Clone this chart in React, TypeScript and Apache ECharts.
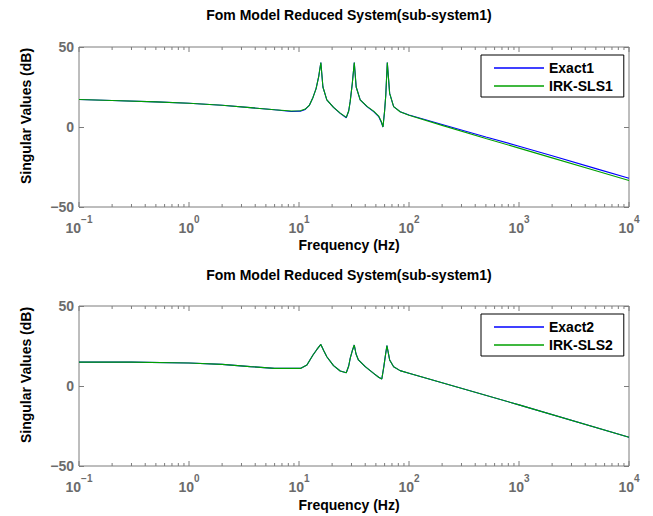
import React, { useEffect, useRef } from 'react';
import * as echarts from 'echarts';

const FONT = '"Liberation Sans", Arial, Helvetica, sans-serif';
const AXIS_GRAY = '#7c7c7c';
const LABEL_GRAY = '#6b6b6b';
const BLUE = '#0000ff';
const GREEN = '#00a000';

const titleText = 'Fom Model Reduced System(sub-system1)';
const xName = 'Frequency (Hz)';
const yName = 'Singular Values (dB)';
const legend1 = ['Exact1', 'IRK-SLS1'];
const legend2 = ['Exact2', 'IRK-SLS2'];

// Top subplot
const freq1 = [0.1, 0.2, 0.5, 1, 2, 3.6, 6, 8.5, 10.3, 11.4, 12.4, 13.4, 14.3, 15.1, 15.8, 16.5, 17.9, 20.6, 23.7, 26.9, 28.3, 29.2, 30.5, 31.8, 33.1, 36, 41.5, 47.7, 53, 56, 58, 60, 61.5, 63.5, 66.7, 72.5, 83, 100, 200, 500, 1000, 2000, 5000, 10000];
const exact1 = [17.2, 16.6, 15.7, 14.8, 13.6, 12.1, 10.8, 9.7, 9.9, 11.0, 13.5, 18.5, 24, 31.5, 40.3, 25, 17, 12.3, 8.5, 5.8, 10, 16, 27, 40.3, 25, 17, 12.7, 9.6, 6.5, 3.0, 0, 10, 20, 40.3, 21, 12.7, 9.6, 7.5, 1.6, -6.2, -12, -18, -26, -32];
const irk1 = [17.2, 16.6, 15.7, 14.8, 13.6, 12.1, 10.8, 10.0, 10.2, 11.2, 13.5, 18.5, 24, 31.5, 40.3, 25, 17, 12.3, 8.7, 6.0, 10, 16, 27, 40.3, 25, 17, 12.9, 9.9, 6.8, 3.5, 0, 10, 20, 40.3, 21, 12.7, 9.5, 7.3, 1.0, -7.2, -13.2, -19.3, -27.4, -33.4];

// Bottom subplot
const freq2 = [0.1, 0.3, 1, 2, 3.6, 6, 10.3, 11.8, 13.4, 14.6, 15.8, 16.8, 17.9, 20.6, 23.7, 26.9, 28.3, 29.2, 30.5, 31.8, 33, 34.7, 40, 47.7, 53, 56.6, 59, 61, 63, 66.7, 72.5, 83, 100, 1000, 10000];
const exact2 = [14.9, 14.9, 14.4, 13.5, 12.1, 11.0, 11.0, 13.1, 19.4, 23, 26, 22, 18.3, 12.7, 9.4, 8.3, 12.5, 17.3, 22, 25.6, 20, 16.3, 12.1, 7.9, 5.5, 4.4, 12, 19, 25.2, 16.3, 12, 9.6, 8, -11.8, -32];
const irk2 = [14.9, 14.9, 14.4, 13.5, 12.1, 11.0, 11.0, 13.1, 19.4, 23, 26, 22, 18.3, 12.7, 9.4, 8.3, 12.5, 17.3, 22, 25.6, 20, 16.3, 12.1, 7.9, 5.5, 4.4, 12, 19, 25.2, 16.3, 12, 9.6, 8, -11.8, -32];

const majorTicks = [0.1, 1, 10, 100, 1000, 10000];
const minorTicks = [0.2, 0.3, 0.4, 0.5, 0.6, 0.7, 0.8, 0.9, 2, 3, 4, 5, 6, 7, 8, 9, 20, 30, 40, 50, 60, 70, 80, 90, 200, 300, 400, 500, 600, 700, 800, 900, 2000, 3000, 4000, 5000, 6000, 7000, 8000, 9000];
const yMin = -50;
const yMax = 50;
const yStep = 50;

const GRID_TOPS = [47, 306];

function tickSeries(ticks: number[], gi: number, len: number) {
  return {
    type: 'custom',
    xAxisIndex: gi,
    yAxisIndex: gi * 2,
    silent: true,
    z: 4,
    data: ticks.map((t) => [t, 0]),
    encode: { x: 0, y: 1 },
    renderItem: (params: any, api: any) => {
      const x = api.coord([api.value(0), 0])[0];
      const cs = params.coordSys;
      const top = cs.y;
      const bottom = cs.y + cs.height;
      return {
        type: 'group',
        children: [
          { type: 'line', shape: { x1: x, y1: bottom, x2: x, y2: bottom - len }, style: { stroke: AXIS_GRAY, lineWidth: 1 } },
          { type: 'line', shape: { x1: x, y1: top, x2: x, y2: top + len }, style: { stroke: AXIS_GRAY, lineWidth: 1 } },
        ],
      };
    },
  };
}

function lineSeries(name: string, f: number[], v: number[], color: string, gi: number) {
  return {
    name,
    type: 'line',
    xAxisIndex: gi,
    yAxisIndex: gi * 2,
    data: f.map((x, i) => [x, v[i]]),
    showSymbol: false,
    symbol: 'none',
    smooth: false,
    z: 3,
    lineStyle: { color, width: 1.1 },
    itemStyle: { color },
  };
}

function xAxis(gi: number) {
  return {
    type: 'log',
    logBase: 10,
    gridIndex: gi,
    min: 0.1,
    max: 10000,
    axisLine: { show: false },
    axisTick: { show: false },
    splitLine: { show: false },
    minorTick: { show: false },
    axisLabel: {
      margin: 7,
      formatter: (v: number) => {
        const e = Math.round(Math.log10(v));
        const es = e < 0 ? '\u2212' + Math.abs(e) : String(e);
        return '{b|10}{s|' + es + '}';
      },
      rich: {
        b: { fontSize: 14, fontWeight: 'bold', fontFamily: FONT, color: LABEL_GRAY, lineHeight: 21, verticalAlign: 'bottom' },
        s: { fontSize: 10, fontWeight: 'bold', fontFamily: FONT, color: LABEL_GRAY, verticalAlign: 'top' },
      },
    },
  };
}

function yAxes(gi: number) {
  return [
    {
      type: 'value',
      gridIndex: gi,
      min: yMin,
      max: yMax,
      interval: yStep,
      position: 'left',
      axisLine: { show: false },
      axisTick: { show: true, inside: true, length: 5, lineStyle: { color: AXIS_GRAY, width: 1 } },
      splitLine: { show: false },
      axisLabel: {
        margin: 5,
        fontSize: 14,
        fontWeight: 'bold',
        fontFamily: FONT,
        color: LABEL_GRAY,
        formatter: (v: number) => (v < 0 ? '\u2212' + Math.abs(v) : String(v)),
      },
    },
    {
      type: 'value',
      gridIndex: gi,
      min: yMin,
      max: yMax,
      interval: yStep,
      position: 'right',
      axisLine: { show: false },
      axisTick: { show: true, inside: true, length: 5, lineStyle: { color: AXIS_GRAY, width: 1 } },
      splitLine: { show: false },
      axisLabel: { show: false },
    },
  ];
}

function legend(names: string[], top: number) {
  return {
    data: names,
    orient: 'vertical',
    left: 481,
    top,
    padding: [6, 11, 4, 13],
    itemGap: 4,
    itemWidth: 50,
    itemHeight: 1.5,
    icon: 'rect',
    borderColor: '#000',
    borderWidth: 1,
    backgroundColor: '#fff',
    textStyle: { fontSize: 14, fontWeight: 'bold', fontFamily: FONT, color: '#000', lineHeight: 14 },
  };
}

function textEl(text: string, x: number, y: number, rotation = 0) {
  return {
    type: 'text',
    x,
    y,
    rotation,
    silent: true,
    style: {
      text,
      fontSize: 14,
      fontWeight: 'bold',
      fontFamily: FONT,
      fill: '#000',
      align: 'center',
      verticalAlign: 'middle',
    },
  };
}

export default function App() {
  const ref = useRef<HTMLDivElement>(null);
  useEffect(() => {
    if (!ref.current) return;
    const chart = echarts.init(ref.current, undefined, { renderer: 'svg' });
    const option: any = {
      animation: false,
      backgroundColor: '#fff',
      grid: GRID_TOPS.map((t) => ({
        left: 79,
        top: t,
        width: 550,
        height: 160,
        show: true,
        borderColor: AXIS_GRAY,
        borderWidth: 1,
        backgroundColor: 'transparent',
        outerBoundsMode: 'none',
      })),
      xAxis: [xAxis(0), xAxis(1)],
      yAxis: [...yAxes(0), ...yAxes(1)],
      legend: [legend(legend1, 55), legend(legend2, 314)],
      series: [
        lineSeries(legend1[0], freq1, exact1, BLUE, 0),
        lineSeries(legend1[1], freq1, irk1, GREEN, 0),
        lineSeries(legend2[0], freq2, exact2, BLUE, 1),
        lineSeries(legend2[1], freq2, irk2, GREEN, 1),
        tickSeries(majorTicks, 0, 5),
        tickSeries(minorTicks, 0, 3),
        tickSeries(majorTicks, 1, 5),
        tickSeries(minorTicks, 1, 3),
      ],
      graphic: [
        textEl(titleText, 349, 15),
        textEl(titleText, 349, 275),
        textEl(xName, 349, 245),
        textEl(xName, 349, 505),
        textEl(yName, 26, 116, Math.PI / 2),
        textEl(yName, 26, 375, Math.PI / 2),
      ],
    };
    chart.setOption(option);
    return () => chart.dispose();
  }, []);
  return (
    <div
      ref={ref}
      style={{ position: 'absolute', left: 0, top: 0, width: 653, height: 516, background: '#fff' }}
    />
  );
}
